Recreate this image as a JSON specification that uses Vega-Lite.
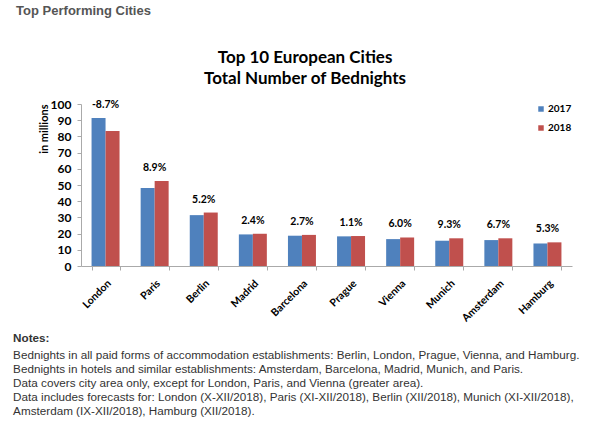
{
  "$schema": "https://vega.github.io/schema/vega-lite/v6.json",
  "background": "white",
  "padding": {"left": 13, "top": 5, "right": 5, "bottom": 5},
  "title": {
    "text": "Top Performing Cities",
    "anchor": "start",
    "frame": "bounds",
    "dx": 3,
    "offset": 31,
    "font": "Liberation Sans",
    "fontSize": 13,
    "fontWeight": "bold",
    "color": "#555555"
  },
  "vconcat": [
    {
      "title": {
        "text": "Notes:",
        "subtitle": [
          "Bednights in all paid forms of accommodation establishments: Berlin, London, Prague, Vienna, and Hamburg.",
          "Bednights in hotels and similar establishments: Amsterdam, Barcelona, Madrid, Munich, and Paris.",
          "Data covers city area only, except for London, Paris, and Vienna (greater area).",
          "Data includes forecasts for: London (X-XII/2018), Paris (XI-XII/2018), Berlin (XII/2018), Munich (XI-XII/2018),",
          "Amsterdam (IX-XII/2018), Hamburg (XII/2018)."
        ],
        "orient": "bottom",
        "anchor": "start",
        "frame": "bounds",
        "dx": -25,
        "offset": 9,
        "font": "Liberation Sans",
        "fontSize": 11.7,
        "fontWeight": "bold",
        "color": "#333333",
        "subtitleFont": "Liberation Sans",
        "subtitleFontSize": 11.7,
        "subtitleColor": "#333333",
        "subtitleLineHeight": 14,
        "subtitlePadding": 6
      },
      "vconcat": [
        {
          "width": 491,
          "height": 162,
          "title": {
            "text": ["Top 10 European Cities", "Total Number of Bednights"],
            "anchor": "middle",
            "frame": "bounds",
            "offset": 10,
            "font": "Lato",
            "fontSize": 17,
            "fontWeight": "bold",
            "color": "black",
            "lineHeight": 21
          },
          "data": {
            "values": [
              {"city": "London", "year": "2017", "value": 91.4, "change": "-8.7%"},
              {"city": "London", "year": "2018", "value": 83.4, "change": "-8.7%"},
              {"city": "Paris", "year": "2017", "value": 48.1, "change": "8.9%"},
              {"city": "Paris", "year": "2018", "value": 52.4, "change": "8.9%"},
              {"city": "Berlin", "year": "2017", "value": 31.4, "change": "5.2%"},
              {"city": "Berlin", "year": "2018", "value": 33.0, "change": "5.2%"},
              {"city": "Madrid", "year": "2017", "value": 19.5, "change": "2.4%"},
              {"city": "Madrid", "year": "2018", "value": 19.9, "change": "2.4%"},
              {"city": "Barcelona", "year": "2017", "value": 18.7, "change": "2.7%"},
              {"city": "Barcelona", "year": "2018", "value": 19.2, "change": "2.7%"},
              {"city": "Prague", "year": "2017", "value": 18.3, "change": "1.1%"},
              {"city": "Prague", "year": "2018", "value": 18.5, "change": "1.1%"},
              {"city": "Vienna", "year": "2017", "value": 16.6, "change": "6.0%"},
              {"city": "Vienna", "year": "2018", "value": 17.6, "change": "6.0%"},
              {"city": "Munich", "year": "2017", "value": 15.6, "change": "9.3%"},
              {"city": "Munich", "year": "2018", "value": 17.1, "change": "9.3%"},
              {"city": "Amsterdam", "year": "2017", "value": 16.0, "change": "6.7%"},
              {"city": "Amsterdam", "year": "2018", "value": 17.1, "change": "6.7%"},
              {"city": "Hamburg", "year": "2017", "value": 13.9, "change": "5.3%"},
              {"city": "Hamburg", "year": "2018", "value": 14.6, "change": "5.3%"}
            ]
          },
          "encoding": {
            "x": {
              "field": "city",
              "type": "nominal",
              "sort": null,
              "scale": {"paddingInner": 0.43, "paddingOuter": 0.215},
              "axis": {
                "title": null,
                "labelAngle": -45,
                "tickBand": "extent",
                "labelFont": "Lato",
                "labelFontSize": 10.5,
                "labelFontWeight": "bold",
                "labelColor": "black",
                "labelPadding": 8,
                "tickSize": 4,
                "tickColor": "#aaaaaa",
                "domainColor": "#aaaaaa"
              }
            }
          },
          "layer": [
            {
              "mark": {"type": "bar"},
              "encoding": {
                "xOffset": {"field": "year", "type": "nominal", "scale": {"paddingInner": 0, "paddingOuter": 0}},
                "y": {
                  "field": "value",
                  "type": "quantitative",
                  "scale": {"domain": [0, 100], "nice": false},
                  "axis": {
                    "title": "in millions",
                    "titleAnchor": "end",
                    "titleFont": "Lato",
                    "titleFontSize": 11,
                    "titleFontWeight": "bold",
                    "titleColor": "black",
                    "titlePadding": 1,
                    "values": [0, 10, 20, 30, 40, 50, 60, 70, 80, 90, 100],
                    "labelOverlap": false,
                    "labelFont": "Lato",
                    "labelFontSize": 12,
                    "labelFontWeight": "bold",
                    "labelColor": "black",
                    "labelPadding": 6,
                    "tickSize": 4,
                    "tickColor": "#aaaaaa",
                    "domainColor": "#aaaaaa",
                    "grid": false
                  }
                },
                "color": {
                  "field": "year",
                  "type": "nominal",
                  "scale": {"domain": ["2017", "2018"], "range": ["#4F81BD", "#C0504D"]},
                  "legend": {
                    "title": null,
                    "orient": "top-right",
                    "offset": 0,
                    "padding": 0,
                    "symbolType": "square",
                    "symbolSize": 30,
                    "symbolStrokeWidth": 0,
                    "labelFont": "Lato",
                    "labelFontSize": 10,
                    "labelFontWeight": "bold",
                    "labelColor": "black",
                    "labelOffset": 2,
                    "rowPadding": 9
                  }
                }
              }
            },
            {
              "mark": {
                "type": "text",
                "baseline": "bottom",
                "dy": -8,
                "font": "Lato",
                "fontSize": 10.5,
                "fontWeight": "bold",
                "color": "black"
              },
              "encoding": {
                "y": {
                  "aggregate": "max",
                  "field": "value",
                  "type": "quantitative",
                  "scale": {"domain": [0, 100], "nice": false},
                  "axis": {
                    "title": "in millions",
                    "titleAnchor": "end",
                    "titleFont": "Lato",
                    "titleFontSize": 11,
                    "titleFontWeight": "bold",
                    "titleColor": "black",
                    "titlePadding": 1,
                    "values": [0, 10, 20, 30, 40, 50, 60, 70, 80, 90, 100],
                    "labelOverlap": false,
                    "labelFont": "Lato",
                    "labelFontSize": 12,
                    "labelFontWeight": "bold",
                    "labelColor": "black",
                    "labelPadding": 6,
                    "tickSize": 4,
                    "tickColor": "#aaaaaa",
                    "domainColor": "#aaaaaa",
                    "grid": false
                  }
                },
                "text": {"field": "change", "type": "nominal"}
              }
            }
          ]
        }
      ]
    }
  ],
  "config": {
    "view": {"stroke": null}
  }
}
